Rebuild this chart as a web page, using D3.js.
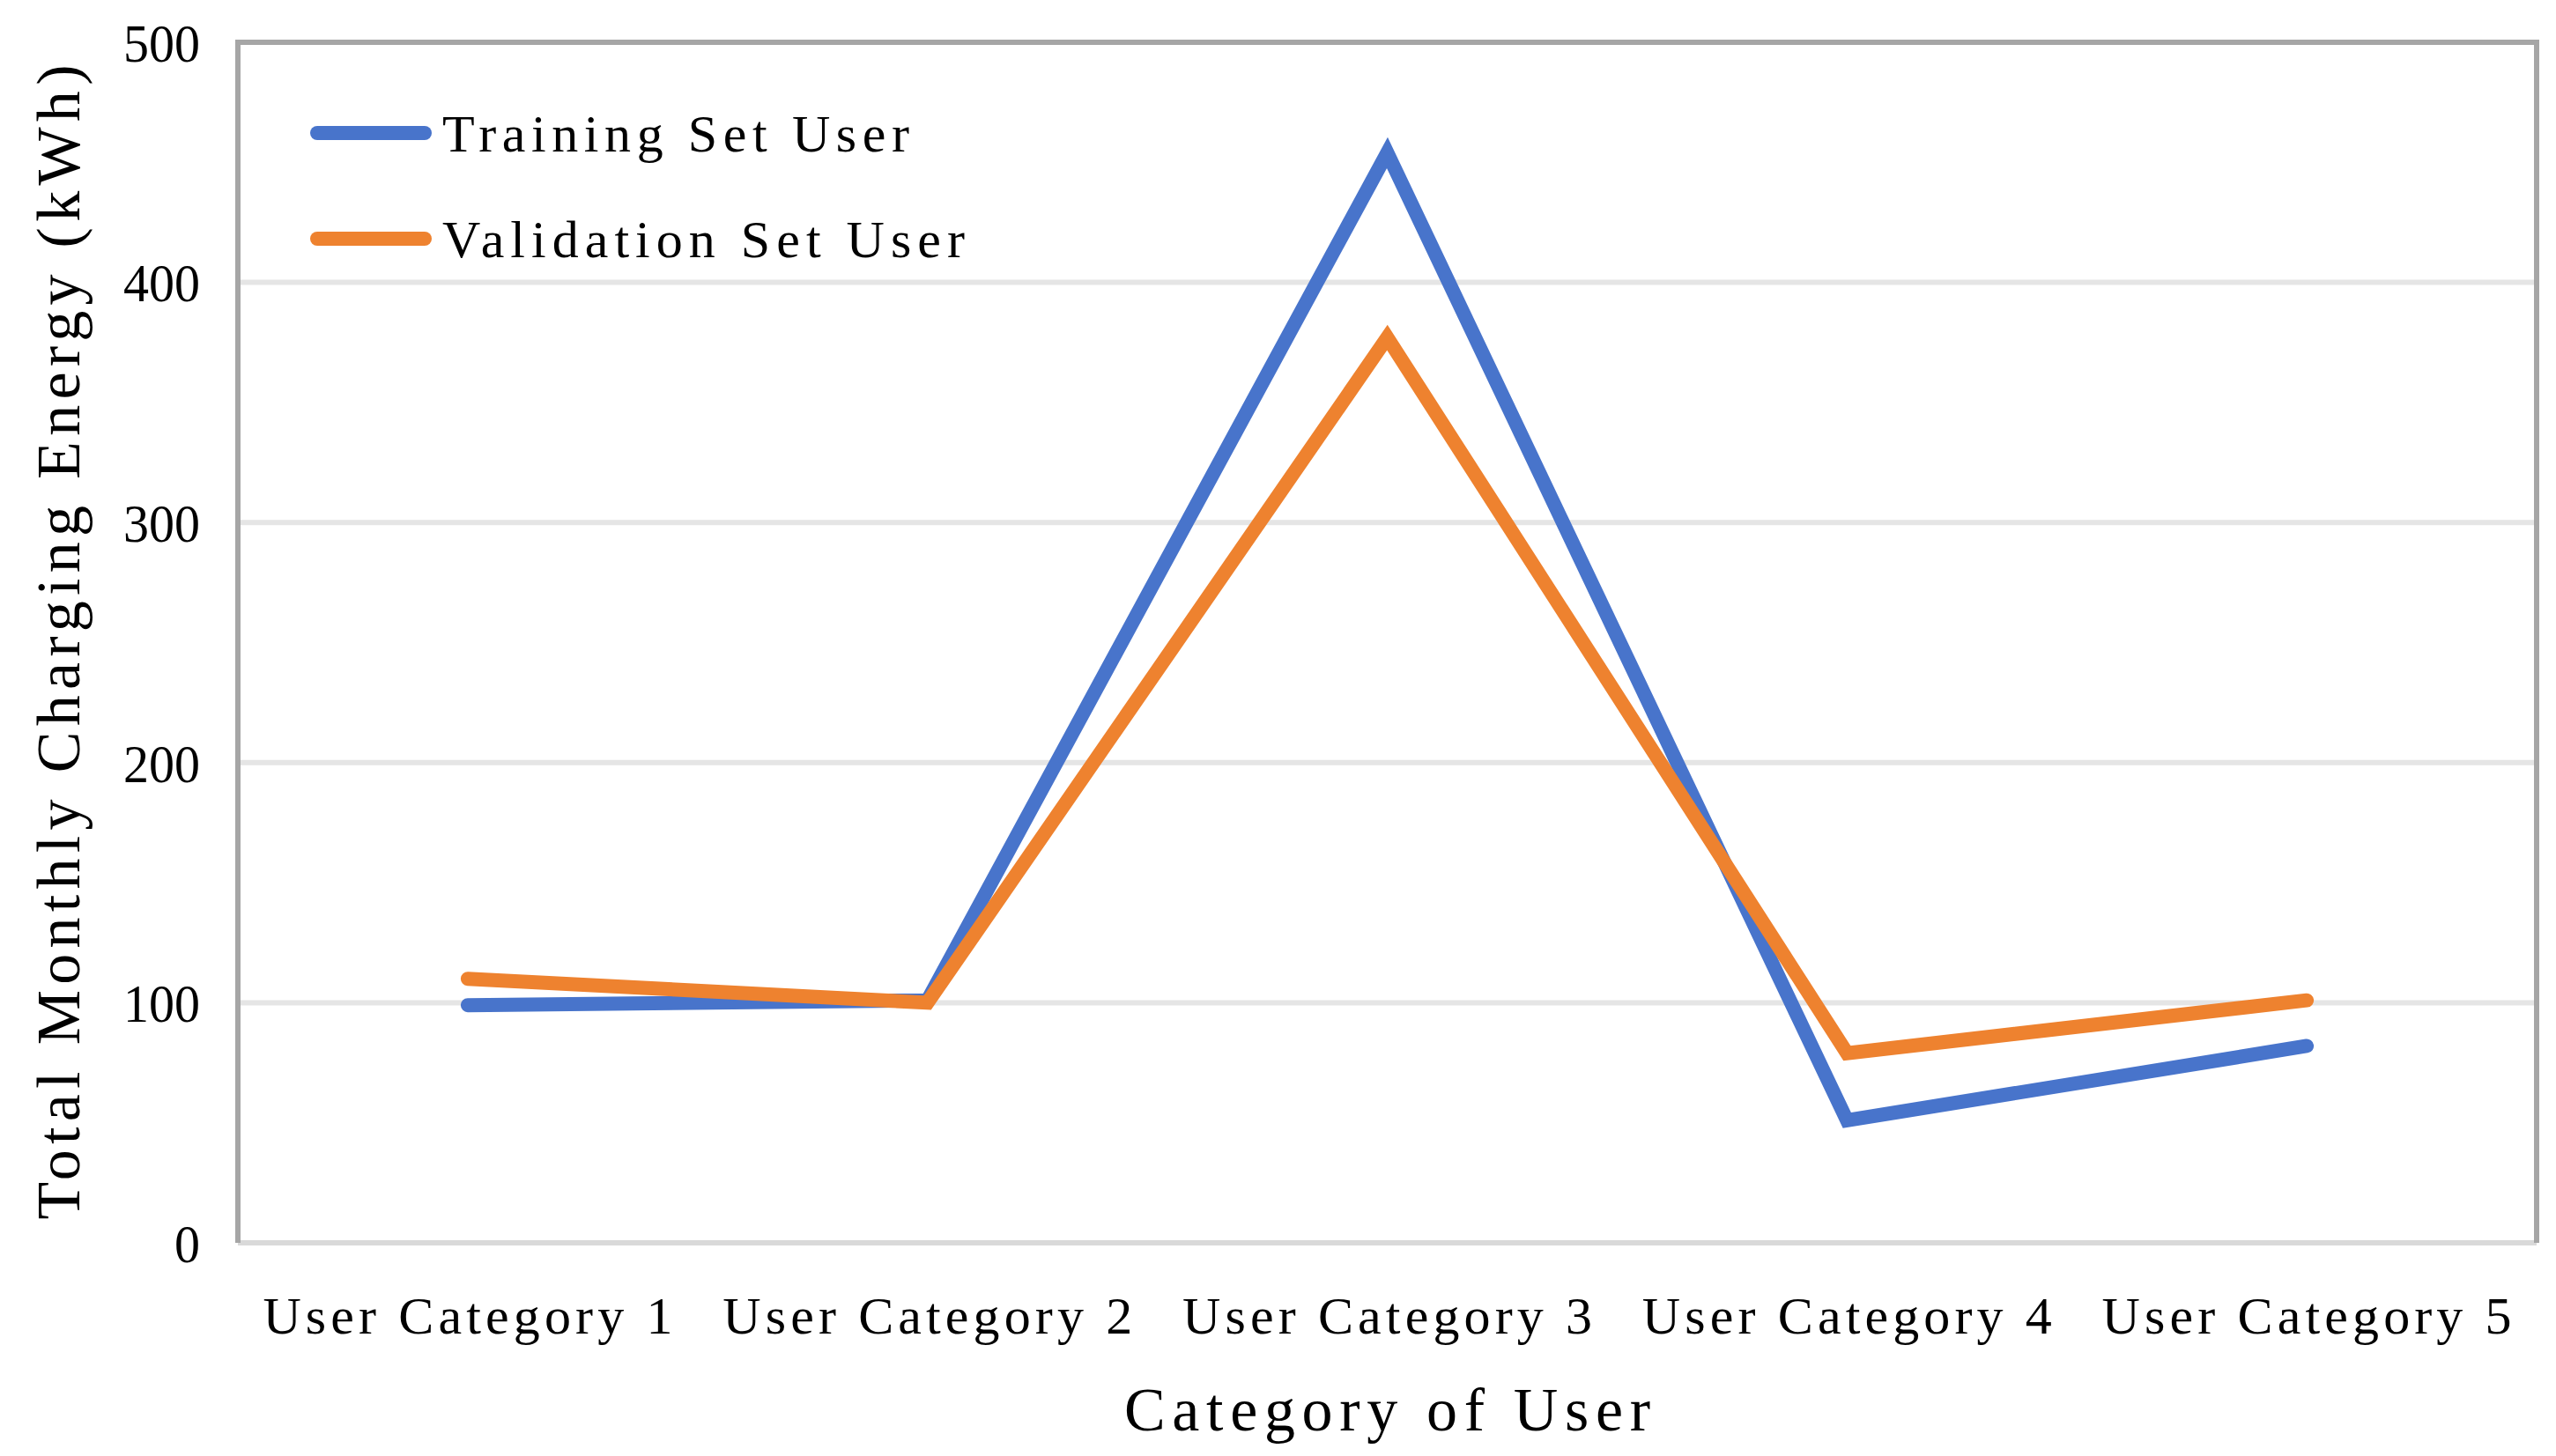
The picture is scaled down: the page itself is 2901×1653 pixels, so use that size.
<!DOCTYPE html>
<html lang="en">
<head>
	<meta charset="utf-8">
	<title>Total Monthly Charging Energy</title>
	<script src="https://cdn.jsdelivr.net/npm/d3@7/dist/d3.min.js"></script>
	<style>
	body { margin: 0; background: #fff; }
	text { font-family: "Liberation Serif", "DejaVu Serif", serif; fill: #000; }
	</style>
</head>
<body>
	<script>
	// chart data
	var categories = ["User Category 1", "User Category 2", "User Category 3", "User Category 4", "User Category 5"];
	var trainingValues = [99, 101, 454, 51, 82];
	var validationValues = [110, 100, 377, 79, 101];
	var seriesNames = ["Training Set User", "Validation Set User"];
	var yTicks = [0, 100, 200, 300, 400, 500];

	var w = 2901;
	var h = 1653;
	// plot area edges
	var plotL = 270, plotT = 48, plotR = 2879, plotB = 1411;

	var svg = d3.select("body")
		.append("svg")
		.attr("width", w)
		.attr("height", h);

	var xScale = d3.scaleBand()
		.domain(categories)
		.range([plotL, plotR]);

	var yScale = d3.scaleLinear()
		.domain([0, 500])
		.range([plotB, plotT]);

	// gridlines
	svg.selectAll(".grid")
		.data(yTicks.slice(1, 5))
		.enter()
		.append("line")
		.attr("x1", plotL)
		.attr("x2", plotR)
		.attr("y1", function(d) { return yScale(d); })
		.attr("y2", function(d) { return yScale(d); })
		.attr("stroke", "#e5e5e5")
		.attr("stroke-width", 6);

	// frame: top, left, right darker, bottom axis lighter
	svg.append("line")
		.attr("x1", plotL).attr("x2", plotR)
		.attr("y1", plotB).attr("y2", plotB)
		.attr("stroke", "#d9d9d9").attr("stroke-width", 6);
	svg.append("path")
		.attr("d", "M" + plotL + "," + plotB + "V" + plotT + "H" + plotR + "V" + plotB)
		.attr("fill", "none")
		.attr("stroke", "#a6a6a6")
		.attr("stroke-width", 6);

	// y tick labels
	svg.selectAll(".ytick")
		.data(yTicks)
		.enter()
		.append("text")
		.attr("x", 227)
		.attr("y", function(d) { return yScale(d); })
		.attr("dy", "0.35em")
		.attr("text-anchor", "end")
		.attr("font-size", 62)
		.attr("textLength", function(d) { return 29 * String(d).length; })
		.attr("lengthAdjust", "spacingAndGlyphs")
		.text(function(d) { return d; });

	// x category labels
	svg.selectAll(".xtick")
		.data(categories)
		.enter()
		.append("text")
		.attr("x", function(d) { return xScale(d) + xScale.bandwidth() / 2; })
		.attr("y", 1493)
		.attr("dy", "0.35em")
		.attr("text-anchor", "middle")
		.attr("font-size", 60)
		.attr("textLength", 465)
		.attr("lengthAdjust", "spacing")
		.text(function(d) { return d; });

	// axis titles
	svg.append("text")
		.attr("x", (plotL + plotR) / 2)
		.attr("y", 1599)
		.attr("dy", "0.35em")
		.attr("text-anchor", "middle")
		.attr("font-size", 70)
		.attr("textLength", 597)
		.attr("lengthAdjust", "spacing")
		.text("Category of User");

	svg.append("text")
		.attr("transform", "translate(65, 729) rotate(-90)")
		.attr("dy", "0.35em")
		.attr("text-anchor", "middle")
		.attr("font-size", 70)
		.attr("textLength", 1311)
		.attr("lengthAdjust", "spacing")
		.text("Total Monthly Charging Energy (kWh)");

	// lines
	var line = d3.line()
		.x(function(d, i) { return xScale(categories[i]) + xScale.bandwidth() / 2; })
		.y(function(d) { return yScale(d); });

	var colors = ["#4874cb", "#ee822f"];
	var allSeries = [trainingValues, validationValues];

	svg.selectAll(".series")
		.data(allSeries)
		.enter()
		.append("path")
		.attr("d", line)
		.attr("fill", "none")
		.attr("stroke", function(d, i) { return colors[i]; })
		.attr("stroke-width", 16)
		.attr("stroke-linecap", "round")
		.attr("stroke-linejoin", "miter");

	// legend
	var legendY = [151, 271];
	var legendLen = [530, 593];
	var legend = svg.selectAll(".legend")
		.data(seriesNames)
		.enter()
		.append("g")
		.attr("transform", function(d, i) { return "translate(0," + legendY[i] + ")"; });

	legend.append("line")
		.attr("x1", 360).attr("x2", 482)
		.attr("y1", 0).attr("y2", 0)
		.attr("stroke", function(d, i) { return colors[i]; })
		.attr("stroke-width", 16)
		.attr("stroke-linecap", "round");

	legend.append("text")
		.attr("x", 502)
		.attr("y", 0)
		.attr("dy", "0.35em")
		.attr("font-size", 60)
		.attr("textLength", function(d, i) { return legendLen[i]; })
		.attr("lengthAdjust", "spacing")
		.text(function(d) { return d; });
	</script>
</body>
</html>
